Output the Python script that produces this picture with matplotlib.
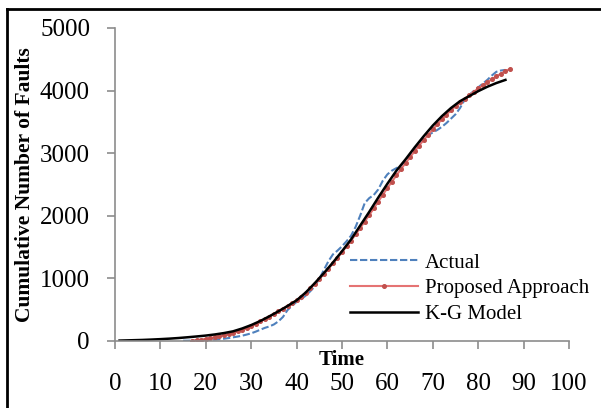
import numpy as np
import matplotlib
matplotlib.use('Agg')
import matplotlib.pyplot as plt
from matplotlib.lines import Line2D

plt.rcParams['font.family'] = ['Liberation Serif', 'DejaVu Serif']

# K-G model (smooth fit)
kg_time = [1, 2, 4, 6, 8, 10, 12, 14, 16, 18, 20, 22, 24, 26, 28, 30, 32, 34, 36, 38,
           40, 42, 44, 46, 48, 50, 52, 54, 56, 58, 60, 62, 64, 66, 68, 70, 72, 74,
           76, 78, 80, 82, 84, 86]
kg_faults = [2, 4, 8, 12, 18, 25, 33, 43, 55, 68, 82, 100, 122, 150, 195, 250, 315,
             390, 470, 555, 645, 770, 920, 1080, 1250, 1430, 1620, 1840, 2060, 2290,
             2510, 2720, 2900, 3090, 3270, 3440, 3590, 3720, 3830, 3910, 3990, 4060,
             4120, 4170]

# proposed approach (one point per time unit)
prop_time = list(range(17, 88))
prop_faults = [0, 8, 18, 30, 42, 56, 70, 86, 104, 125, 148, 175, 205, 238, 272, 308,
               346, 386, 428, 470, 512, 555, 600, 645, 702, 765, 835, 910, 985, 1065,
               1150, 1235, 1325, 1415, 1510, 1600, 1700, 1800, 1905, 2010, 2115, 2225,
               2335, 2440, 2545, 2645, 2745, 2840, 2935, 3030, 3120, 3210, 3295, 3380,
               3460, 3540, 3615, 3685, 3750, 3815, 3870, 3925, 3980, 4033, 4083, 4132,
               4180, 4226, 4270, 4312, 4345]

# actual observed faults
act_time = list(range(15, 87))
act_faults = [0, 0, 2, 4, 6, 10, 14, 18, 24, 32, 42, 54, 66, 80, 98, 118, 145, 175,
              205, 228, 260, 310, 380, 490, 560, 620, 665, 720, 790, 870, 990, 1130,
              1270, 1380, 1440, 1510, 1590, 1680, 1820, 2000, 2200, 2280, 2330, 2420,
              2560, 2660, 2720, 2760, 2800, 2880, 2960, 3050, 3150, 3240, 3290, 3330,
              3370, 3420, 3480, 3550, 3620, 3720, 3850, 3930, 3990, 4050, 4110, 4170,
              4240, 4300, 4320, 4330]

fig = plt.figure(figsize=(6.01, 4.08), dpi=100)
ax = fig.add_axes([115 / 601, 1 - 340.7 / 408, (569 - 115) / 601, (340.7 - 28) / 408])

ax.plot(act_time, act_faults, color='#4F81BD', lw=1.5, linestyle=(0, (3.5, 1.3)),
        label='Actual')
ax.plot(prop_time, prop_faults, color='#E57373', lw=1.5, marker='o', markersize=2.6,
        markerfacecolor='#C0504D', markeredgecolor='#C0504D', label='Proposed Approach')
ax.plot(kg_time, kg_faults, color='black', lw=1.8, label='K-G Model')

ax.set_xlim(0, 100)
ax.set_ylim(0, 5000)
ax.set_xticks(np.arange(0, 101, 10))
ax.set_yticks(np.arange(0, 5001, 1000))

for s in ['top', 'right']:
    ax.spines[s].set_visible(False)
for s in ['left', 'bottom']:
    ax.spines[s].set_color('#8C8C8C')
    ax.spines[s].set_linewidth(1.2)
ax.tick_params(axis='both', colors='#8C8C8C', length=6, width=1.2, labelsize=18,
               labelcolor='black')
ax.tick_params(axis='x', pad=17)
ax.tick_params(axis='y', pad=12)

ax.set_xlabel('Time', fontsize=15, fontweight='bold')
ax.xaxis.label.set_va('center')
ax.xaxis.set_label_coords(0.5, -0.062)
ax.set_ylabel('Cumulative Number of Faults', fontsize=15.5, fontweight='bold')
ax.yaxis.label.set_va('center')
ax.yaxis.set_label_coords(-0.198, 0.5)

ax.legend(loc='upper left', bbox_to_anchor=(350 / 601, 1 - 253 / 408),
          bbox_transform=fig.transFigure, frameon=False, fontsize=15,
          handlelength=3.25, handletextpad=0.35, borderpad=0, borderaxespad=0,
          labelspacing=0.3)

# outer border of the chart area
fig.add_artist(Line2D([6.5 / 601, 6.5 / 601], [-0.1, 1 - 8.5 / 408], color='black',
                      lw=2, transform=fig.transFigure))
fig.add_artist(Line2D([6.5 / 601, 1.1], [1 - 8.5 / 408, 1 - 8.5 / 408], color='black',
                      lw=2, transform=fig.transFigure))

fig.savefig('out.png', dpi=100)
